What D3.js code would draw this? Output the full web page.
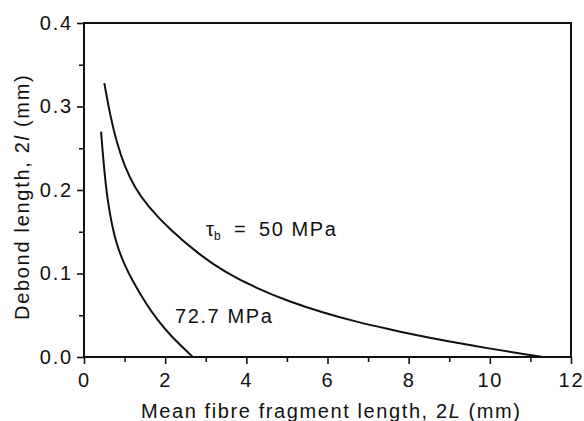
<!DOCTYPE html>
<html>
<head>
<meta charset="utf-8">
<script src="https://cdn.jsdelivr.net/npm/d3@7"></script>
<style>
  body { margin: 0; background: #fff; }
  text { font-family: "Liberation Sans", Arial, sans-serif; fill: #111; }
</style>
</head>
<body>
<script>
var width = 584, height = 421;
var margin = {top: 23, right: 13, bottom: 64, left: 84};

// fragment length 2L (mm) and debond length 2l (mm)
var x50 = [0.50, 0.65, 0.80, 1.00, 1.25, 1.55, 2.12, 2.86, 3.43, 4.26, 5.08, 5.90, 6.72, 7.54, 8.11, 8.94, 10.0, 10.91, 11.3];
var y50 = [0.328, 0.288, 0.258, 0.228, 0.203, 0.182, 0.152, 0.122, 0.103, 0.082, 0.066, 0.053, 0.042, 0.033, 0.027, 0.019, 0.010, 0.003, 0.0];
var x72 = [0.42, 0.50, 0.58, 0.68, 0.80, 1.00, 1.20, 1.55, 1.80, 2.12, 2.68];
var y72 = [0.270, 0.222, 0.188, 0.160, 0.135, 0.110, 0.091, 0.062, 0.045, 0.026, 0.0];

var xTicks = [0, 2, 4, 6, 8, 10, 12];
var xMinor = [1, 3, 5, 7, 9, 11];
var yTicks = [0.0, 0.1, 0.2, 0.3, 0.4];
var yMinor = [0.05, 0.15, 0.25, 0.35];

var svg = d3.select("body").append("svg")
    .attr("width", width)
    .attr("height", height);

var x = d3.scaleLinear().domain([0, 12]).range([margin.left, width - margin.right]);
var y = d3.scaleLinear().domain([0, 0.4]).range([height - margin.bottom, margin.top]);

// frame
svg.append("rect")
    .attr("x", x(0)).attr("y", y(0.4))
    .attr("width", x(12) - x(0)).attr("height", y(0) - y(0.4))
    .attr("fill", "none").attr("stroke", "#111").attr("stroke-width", 2);

// x axis
var xAxis = svg.append("g").attr("transform", "translate(0," + y(0) + ")");
xAxis.call(d3.axisBottom(x).tickValues(xTicks).tickSize(7).tickPadding(9).tickFormat(d3.format("d")));
xAxis.append("g").call(d3.axisBottom(x).tickValues(xMinor).tickSize(5).tickFormat(""));

// y axis
var yAxis = svg.append("g").attr("transform", "translate(" + x(0) + ",0)");
yAxis.call(d3.axisLeft(y).tickValues(yTicks).tickSize(7).tickPadding(4).tickFormat(d3.format(".1f")));
yAxis.append("g").call(d3.axisLeft(y).tickValues(yMinor).tickSize(5).tickFormat(""));

svg.selectAll(".domain").remove();
svg.selectAll(".tick line").attr("stroke", "#111").attr("stroke-width", 1.6);
svg.selectAll(".tick text")
    .style("font-family", "'Liberation Sans', Arial, sans-serif")
    .style("font-size", "20px")
    .style("letter-spacing", "1.8px")
    .attr("fill", "#111");

// curves
var line = d3.line()
    .x(d => x(d[0]))
    .y(d => y(d[1]))
    .curve(d3.curveBasis);

svg.append("path")
    .datum(x50.map((v, i) => [v, y50[i]]))
    .attr("d", line)
    .attr("fill", "none").attr("stroke", "#111").attr("stroke-width", 2);

svg.append("path")
    .datum(x72.map((v, i) => [v, y72[i]]))
    .attr("d", line)
    .attr("fill", "none").attr("stroke", "#111").attr("stroke-width", 2);

// curve labels
var lab = svg.append("text")
    .attr("x", 206).attr("y", 236)
    .style("font-size", "20px");
lab.append("tspan").text("\u03c4");
lab.append("tspan").attr("dy", 4).style("font-size", "12px").text("b");
lab.append("tspan").attr("x", 234).attr("dy", -4).text("=");
lab.append("tspan").attr("x", 259).style("letter-spacing", "1.6px").text("50 MPa");

svg.append("text")
    .attr("x", 175).attr("y", 323)
    .style("font-size", "20px")
    .style("letter-spacing", "1.6px")
    .text("72.7 MPa");

// axis titles
var xt = svg.append("text")
    .attr("x", 141).attr("y", 418)
    .style("font-size", "20px")
    .style("letter-spacing", "1.6px");
xt.append("tspan").text("Mean fibre fragment length, 2");
xt.append("tspan").style("font-style", "italic").text("L");
xt.append("tspan").text(" (mm)");

var yt = svg.append("text")
    .attr("transform", "translate(29,320) rotate(-90)")
    .style("font-size", "20px")
    .style("letter-spacing", "1.7px");
yt.append("tspan").text("Debond length, 2");
yt.append("tspan").style("font-style", "italic").text("l");
yt.append("tspan").text(" (mm)");
</script>
</body>
</html>
